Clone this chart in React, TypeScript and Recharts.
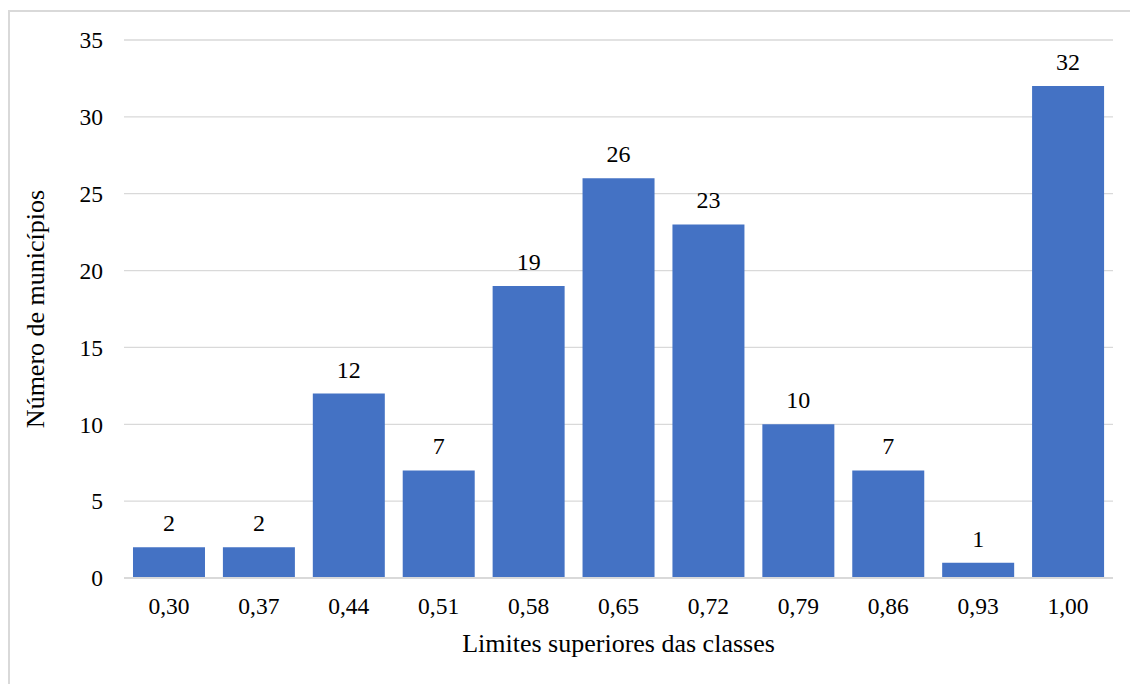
import React from 'react';
import { BarChart, Bar, XAxis, YAxis, CartesianGrid, LabelList } from 'recharts';

const categories = ['0,30', '0,37', '0,44', '0,51', '0,58', '0,65', '0,72', '0,79', '0,86', '0,93', '1,00'];
const counts = [2, 2, 12, 7, 19, 26, 23, 10, 7, 1, 32];
const yTicks = [0, 5, 10, 15, 20, 25, 30, 35];
const xTitle = 'Limites superiores das classes';
const yTitle = 'Número de municípios';

const data = categories.map((c, i) => ({ cat: c, value: counts[i] }));

const FONT = 'Liberation Serif, DejaVu Serif, serif';

const YTitle = (props: any) => {
  const vb = props.viewBox || {};
  const cx = vb.x + 35;
  const cy = vb.y + vb.height / 2;
  return (
    <text
      x={cx}
      y={cy}
      transform={`rotate(-90 ${cx} ${cy})`}
      textAnchor="middle"
      dominantBaseline="central"
      style={{ fontFamily: FONT, fontSize: 26 }}
      fill="#000"
    >
      {yTitle}
    </text>
  );
};

export default function App() {
  return (
    <div style={{ fontFamily: FONT }}>
      <style>{`.recharts-wrapper text { font-family: ${FONT}; }`}</style>
      <div
        style={{
          position: 'fixed',
          left: 8,
          top: 10,
          width: 1140,
          height: 700,
          border: '2px solid #d9d9d9',
          boxSizing: 'border-box',
          background: '#fff',
        }}
      />
      <div style={{ position: 'fixed', left: 0, top: 0, width: 1130, height: 684 }}>
        <BarChart
          width={1130}
          height={684}
          data={data}
          margin={{ top: 40, right: 17, bottom: 26, left: 0 }}
          barCategoryGap="10%"
        >
          <CartesianGrid vertical={false} stroke="#d9d9d9" strokeWidth={1.3} />
          <XAxis
            dataKey="cat"
            height={80}
            tickLine={false}
            tickSize={0}
            tickMargin={19}
            axisLine={{ stroke: '#d9d9d9', strokeWidth: 2 }}
            tick={{ fill: '#000', fontSize: 23.5 }}
            interval={0}
            label={{
              value: xTitle,
              position: 'insideBottom',
              offset: 6,
              fill: '#000',
              fontSize: 26,
            }}
          />
          <YAxis
            width={124}
            domain={[0, 35]}
            ticks={yTicks}
            interval={0}
            tickLine={false}
            axisLine={false}
            tickSize={0}
            tickMargin={21}
            tick={{ fill: '#000', fontSize: 23.5 }}
            label={<YTitle />}
          />
          <Bar dataKey="value" fill="#4472C4" isAnimationActive={false}>
            <LabelList
              dataKey="value"
              position="top"
              offset={16}
              fill="#000"
              fontSize={24}
            />
          </Bar>
        </BarChart>
      </div>
    </div>
  );
}
